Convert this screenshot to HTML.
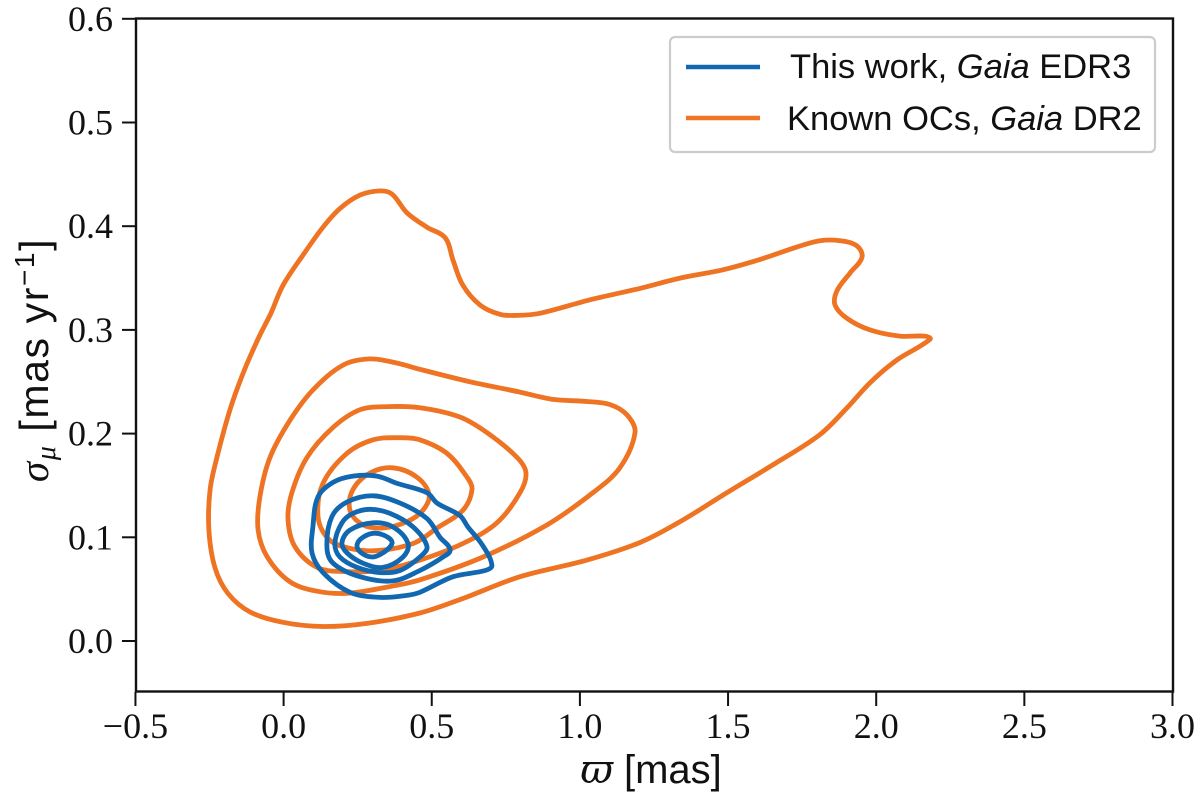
<!DOCTYPE html>
<html>
<head>
<meta charset="utf-8">
<title>Contour chart</title>
<style>
html,body{margin:0;padding:0;background:#fff;}
svg{display:block;}
.tick{font-family:"Liberation Serif",serif;font-size:36px;fill:#111;}
.lab{font-family:"Liberation Sans",sans-serif;fill:#111;}
</style>
</head>
<body>
<svg id="chart" width="1200" height="809" viewBox="0 0 1200 809" xmlns="http://www.w3.org/2000/svg">
<rect width="1200" height="809" fill="#fff"/>
<g id="marks"></g>
<rect x="136" y="18.5" width="1037" height="673" fill="none" stroke="#111" stroke-width="2.4"/>
<g id="axes"></g>
<text class="lab" x="651" y="783" font-size="40" text-anchor="middle"><tspan font-family="DejaVu Serif, serif" font-style="italic">ϖ</tspan> [mas]</text>
<text class="lab" transform="translate(48,360) rotate(-90)" font-size="41" letter-spacing="1.6" text-anchor="middle"><tspan font-family="Liberation Serif, serif" font-style="italic">σ</tspan><tspan font-family="Liberation Serif, serif" font-style="italic" font-size="28" dy="7">μ</tspan><tspan dy="-7"> [mas yr</tspan><tspan font-size="28" dy="-14">−1</tspan><tspan dy="14">]</tspan></text>
<g>
<rect x="670" y="37" width="485" height="115" rx="5" fill="#fff" stroke="#ccc" stroke-width="2.2"/>
<line x1="686" y1="67" x2="760" y2="67" stroke="#1268b0" stroke-width="4.5"/>
<line x1="686" y1="118" x2="760" y2="118" stroke="#ef7424" stroke-width="4.5"/>
<text class="lab" x="790" y="78" font-size="34.5">This work, <tspan font-style="italic">Gaia</tspan> EDR3</text>
<text class="lab" x="787" y="130" font-size="34.5">Known OCs, <tspan font-style="italic">Gaia</tspan> DR2</text>
</g>
</svg>
<script>
const xTicks = [-0.5, 0.0, 0.5, 1.0, 1.5, 2.0, 2.5, 3.0];
const yTicks = [0.0, 0.1, 0.2, 0.3, 0.4, 0.5, 0.6];
const xTickLabels = ['−0.5', '0.0', '0.5', '1.0', '1.5', '2.0', '2.5', '3.0'];
const yTickLabels = ['0.0', '0.1', '0.2', '0.3', '0.4', '0.5', '0.6'];

const orange1 = [[.325,.434],[.366,.431],[.416,.413],[.484,.399],[.545,.389],[.572,.367],[.605,.343],[.663,.324],[.730,.315],[.788,.314],[.865,.316],[1.034,.329],[1.203,.340],[1.338,.350],[1.483,.358],[1.608,.368],[1.733,.380],[1.810,.386],[1.878,.386],[1.935,.381],[1.952,.370],[1.912,.355],[1.868,.338],[1.861,.324],[1.902,.311],[1.979,.300],[2.080,.294],[2.165,.294],[2.182,.291],[2.070,.271],[1.979,.249],[1.902,.225],[1.810,.199],[1.652,.170],[1.496,.143],[1.338,.115],[1.203,.095],[1.024,.078],[.798,.062],[.605,.041],[.460,.027],[.281,.017],[.133,.014],[-.002,.018],[-.113,.028],[-.188,.046],[-.232,.071],[-.252,.107],[-.248,.146],[-.225,.177],[-.181,.223],[-.137,.258],[-.085,.292],[-.043,.316],[-.002,.343],[.065,.372],[.133,.399],[.190,.417],[.258,.430]];
const orange2 = [[.292,.272],[.383,.268],[.460,.262],[.629,.250],[.798,.240],[.909,.233],[1.024,.231],[1.102,.228],[1.159,.218],[1.186,.201],[1.135,.167],[1.044,.143],[.889,.112],[.673,.081],[.460,.059],[.349,.052],[.214,.046],[.113,.048],[.022,.057],[-.055,.081],[-.086,.107],[-.080,.139],[-.046,.177],[.022,.213],[.099,.242],[.200,.266]];
const orange3 = [[.349,.226],[.460,.225],[.595,.216],[.686,.201],[.788,.177],[.818,.162],[.798,.143],[.720,.114],[.605,.094],[.460,.078],[.325,.068],[.200,.067],[.113,.071],[.038,.091],[.015,.117],[.028,.143],[.079,.177],[.167,.206],[.258,.223]];
const orange4 = [[.393,.196],[.460,.194],[.551,.181],[.619,.158],[.636,.146],[.605,.126],[.518,.109],[.437,.094],[.302,.087],[.200,.091],[.146,.100],[.116,.120],[.133,.152],[.214,.181],[.302,.194]];
const orange5 = [[.369,.167],[.450,.158],[.491,.141],[.470,.126],[.416,.115],[.335,.109],[.268,.112],[.224,.126],[.234,.146],[.292,.162]];
const blue1 = [[.234,.159],[.315,.159],[.383,.152],[.484,.143],[.518,.133],[.595,.121],[.622,.110],[.670,.093],[.703,.073],[.680,.068],[.572,.062],[.460,.047],[.416,.044],[.325,.042],[.224,.047],[.133,.066],[.096,.085],[.099,.110],[.116,.139],[.167,.153]];
const blue2 = [[.302,.140],[.393,.133],[.484,.118],[.528,.100],[.562,.088],[.538,.081],[.460,.068],[.369,.058],[.258,.062],[.167,.075],[.146,.091],[.163,.120],[.214,.134]];
const blue3 = [[.292,.127],[.359,.123],[.437,.110],[.484,.091],[.460,.081],[.393,.068],[.325,.066],[.248,.071],[.190,.081],[.173,.094],[.197,.114],[.234,.123]];
const blue4 = [[.302,.114],[.369,.110],[.420,.094],[.403,.081],[.335,.071],[.268,.075],[.214,.085],[.197,.095],[.224,.107]];
const blue5 = [[.308,.104],[.352,.100],[.366,.094],[.335,.085],[.298,.081],[.258,.086],[.248,.093],[.268,.100]];

const orangeSeries = [orange1, orange2, orange3, orange4, orange5];
const blueSeries = [blue1, blue2, blue3, blue4, blue5];

const NS = 'http://www.w3.org/2000/svg';
const sx = v => 283.6 + v * 296.3;
const sy = v => 641 - v * 1037;

function closedPath(pts) {
  const p = pts.map(d => [sx(d[0]), sy(d[1])]);
  const n = p.length;
  const tan = p.map(function (_, i) {
    const a = p[(i - 1 + n) % n], c = p[(i + 1) % n];
    const dx = c[0] - a[0], dy = c[1] - a[1], len = Math.hypot(dx, dy) || 1;
    return [dx / len, dy / len];
  });
  let s = 'M' + p[0][0].toFixed(1) + ' ' + p[0][1].toFixed(1);
  for (let i = 0; i < n; i++) {
    const j = (i + 1) % n;
    const b = p[i], c = p[j];
    const k = Math.hypot(c[0] - b[0], c[1] - b[1]) / 3;
    s += 'C' + (b[0] + tan[i][0] * k).toFixed(1) + ' ' + (b[1] + tan[i][1] * k).toFixed(1) + ' ' + (c[0] - tan[j][0] * k).toFixed(1) + ' ' + (c[1] - tan[j][1] * k).toFixed(1) + ' ' + c[0].toFixed(1) + ' ' + c[1].toFixed(1);
  }
  return s + 'Z';
}

const marks = document.getElementById('marks');
function drawContours(series, color, label) {
  series.forEach(function (pts, i) {
    const path = document.createElementNS(NS, 'path');
    path.setAttribute('d', closedPath(pts));
    path.setAttribute('fill', 'none');
    path.setAttribute('stroke', color);
    path.setAttribute('stroke-width', '4.8');
    path.setAttribute('stroke-linejoin', 'round');
    
    
    marks.appendChild(path);
  });
}
drawContours(orangeSeries, '#ee7322', 'known-ocs');
drawContours(blueSeries, '#1268b0', 'this-work');

const axes = document.getElementById('axes');
function addTick(x1, y1, x2, y2, name) {
  const l = document.createElementNS(NS, 'line');
  l.setAttribute('x1', x1);
  l.setAttribute('y1', y1);
  l.setAttribute('x2', x2);
  l.setAttribute('y2', y2);
  l.setAttribute('stroke', '#111');
  l.setAttribute('stroke-width', '2');
  
  
  axes.appendChild(l);
}
function addLabel(x, y, str, anchor, name) {
  const t = document.createElementNS(NS, 'text');
  t.setAttribute('x', x);
  t.setAttribute('y', y);
  t.setAttribute('class', 'tick');
  t.setAttribute('text-anchor', anchor);
  t.textContent = str;
  
  
  axes.appendChild(t);
}
xTicks.forEach(function (v, i) {
  addTick(sx(v), 692, sx(v), 706, 'x-tick');
  addLabel(sx(v), 738, xTickLabels[i], 'middle', 'x-tick-label');
});
yTicks.forEach(function (v, i) {
  addTick(122, sy(v), 136, sy(v), 'y-tick');
  addLabel(113, sy(v) + 12, yTickLabels[i], 'end', 'y-tick-label');
});
</script>
</body>
</html>
